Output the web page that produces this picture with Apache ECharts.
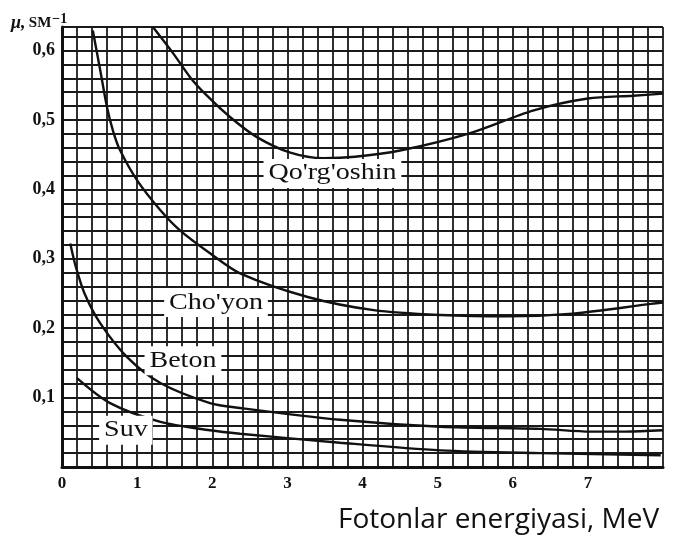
<!DOCTYPE html>
<html>
<head>
<meta charset="utf-8">
<script src="https://cdn.jsdelivr.net/npm/echarts@6/dist/echarts.min.js"></script>
<style>
html, body { margin: 0; padding: 0; background: #fff; }
#chart { width: 684px; height: 536px; }
</style>
</head>
<body>
<div id="chart"></div>
<script>
// energiya (MeV) va mu (sm^-1) qiymatlari, grafikdan o'qilgan
var qorgE  = [1.21, 1.48, 1.71, 1.93, 2.24, 2.6, 3.04, 3.48, 3.9, 4.5, 5.4, 6.28, 7.0, 7.6, 8.0];
var qorgMu = [0.634, 0.596, 0.561, 0.535, 0.504, 0.475, 0.453, 0.445, 0.447, 0.456, 0.48, 0.514, 0.531, 0.535, 0.538];

var choyonE  = [0.41, 0.51, 0.6, 0.68, 0.77, 1.0, 1.31, 1.57, 1.97, 2.37, 3.27, 4.15, 5.04, 5.93, 6.8, 7.84, 8.0];
var choyonMu = [0.629, 0.571, 0.518, 0.484, 0.457, 0.413, 0.37, 0.341, 0.308, 0.279, 0.245, 0.226, 0.219, 0.217, 0.221, 0.235, 0.237];

var betonE  = [0.11, 0.18, 0.3, 0.51, 0.87, 1.31, 1.97, 2.37, 3.7, 5.04, 6.37, 7.04, 7.5, 8.0];
var betonMu = [0.322, 0.29, 0.25, 0.207, 0.158, 0.121, 0.092, 0.085, 0.068, 0.058, 0.055, 0.051, 0.051, 0.053];

var suvE  = [0.2, 0.64, 1.31, 1.97, 2.37, 3.7, 5.04, 6.37, 7.97];
var suvMu = [0.128, 0.092, 0.065, 0.053, 0.048, 0.035, 0.024, 0.02, 0.017];

// egri chiziq yozuvlari
var labelNames = ["Qo'rg'oshin", "Cho'yon", "Beton", "Suv"];
var labelE  = [3.6, 2.05, 1.61, 0.85];
var labelMu = [0.423, 0.237, 0.153, 0.053];

function pairs(xs, ys) {
	var out = [];
	for (var i = 0; i < xs.length; i++) out.push([xs[i], ys[i]]);
	return out;
}

var dom = document.getElementById('chart');
var myChart = echarts.init(dom);
var serif = "'Liberation Serif', 'DejaVu Serif', serif";

function curve(name, xs, ys) {
	return {
		name: name,
		type: 'line',
		smooth: 0.3,
		symbol: 'none',
		lineStyle: { color: '#111', width: 2.4 },
		data: pairs(xs, ys),
		z: 5
	};
}

var option = {
	backgroundColor: '#fff',
	animation: false,
	grid: { left: 62, right: 21, top: 27, bottom: 69 },
	xAxis: {
		type: 'value',
		min: 0,
		max: 8,
		interval: 0.2,
		axisLine: { show: true, lineStyle: { color: '#111', width: 3 } },
		axisTick: { show: false },
		splitLine: { show: true, lineStyle: { color: '#1a1a1a', width: 1.8 } },
		axisLabel: {
			color: '#111',
			fontFamily: serif,
			fontWeight: 'bold',
			fontSize: 17,
			margin: 8,
			formatter: function (v) {
				var r = Math.round(v);
				if (Math.abs(v - r) < 1e-6 && r < 8) return String(r);
				return '';
			}
		}
	},
	yAxis: {
		type: 'value',
		min: 0,
		max: 0.634,
		interval: 0.02,
		axisLine: { show: true, lineStyle: { color: '#111', width: 3 } },
		axisTick: { show: false },
		splitLine: { show: true, lineStyle: { color: '#1a1a1a', width: 1.8 } },
		axisLabel: {
			color: '#111',
			fontFamily: serif,
			fontWeight: 'bold',
			fontSize: 18,
			margin: 7,
			formatter: function (v) {
				var t = Math.round(v * 10);
				if (t > 0 && Math.abs(v * 10 - t) < 1e-6) return '0,' + t;
				return '';
			}
		}
	},
	series: [
		curve("Qo'rg'oshin", qorgE, qorgMu),
		curve("Cho'yon", choyonE, choyonMu),
		curve('Beton', betonE, betonMu),
		curve('Suv', suvE, suvMu)
	]
};

myChart.setOption(option);

// yozuvlar va o'q nomlari
var gr = [];
for (var i = 0; i < labelNames.length; i++) {
	var p = myChart.convertToPixel({ gridIndex: 0 }, [labelE[i], labelMu[i]]);
	gr.push({
		type: 'text',
		x: p[0],
		y: p[1],
		scaleX: 1.22,
		z: 10,
		style: {
			text: labelNames[i],
			font: '23px ' + serif,
			fill: '#111',
			align: 'center',
			verticalAlign: 'middle',
			backgroundColor: '#fff',
			padding: [3, 4, 3, 4]
		}
	});
}
gr.push({
	type: 'text',
	left: 11,
	top: 12,
	style: {
		text: '{m|μ,} {s|SM}{p|−1}',
		rich: {
			m: { font: 'italic bold 18px ' + serif, fill: '#111' },
			s: { font: 'bold 15px ' + serif, fill: '#111' },
			p: { font: 'bold 14px ' + serif, fill: '#111', verticalAlign: 'top', padding: [0, 0, 9, 1] }
		}
	}
});
gr.push({
	type: 'text',
	left: 338,
	top: 506,
	style: {
		text: 'Fotonlar energiyasi, MeV',
		font: "28px 'Open Sans', 'Noto Sans', sans-serif",
		fill: '#111'
	}
});
myChart.setOption({ graphic: gr });
</script>
</body>
</html>
